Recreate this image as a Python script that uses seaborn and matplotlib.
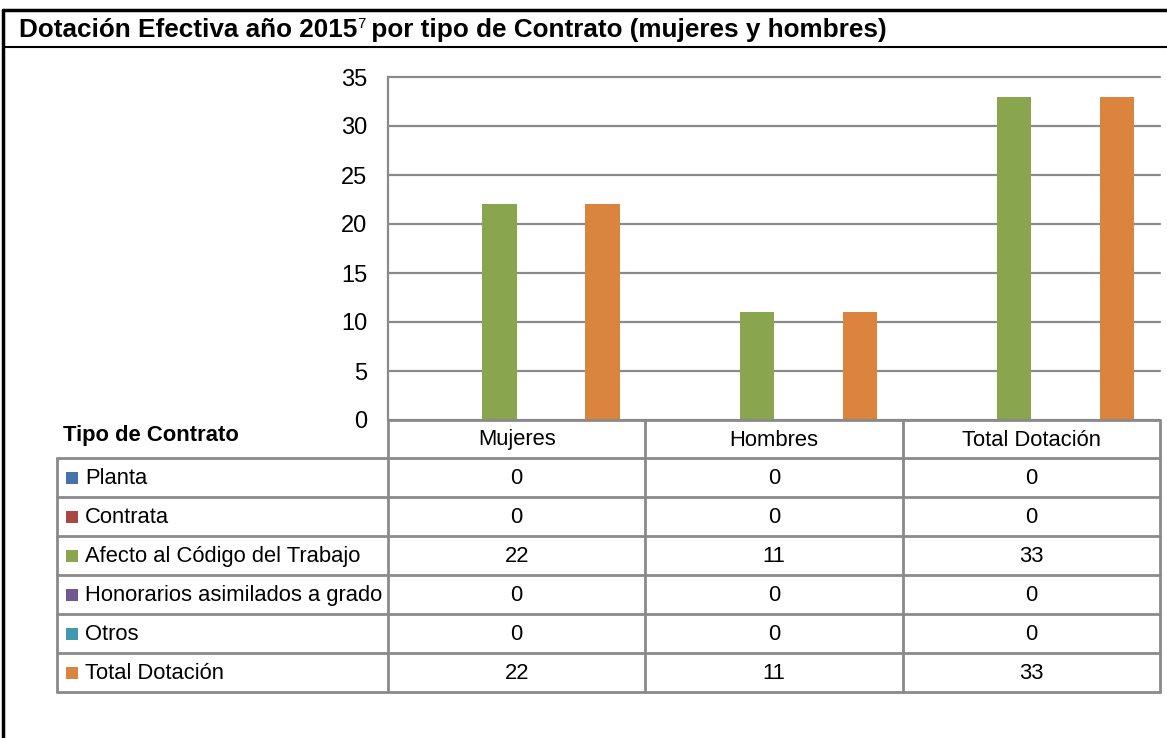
import pandas as pd
import matplotlib
matplotlib.use("Agg")
import matplotlib.pyplot as plt
import matplotlib.transforms as mtransforms
from matplotlib.lines import Line2D
from matplotlib.patches import Rectangle
import seaborn as sns

# datos
grupos = ["Mujeres", "Hombres", "Total Dotación"]
tipos = [
    "Planta",
    "Contrata",
    "Afecto al Código del Trabajo",
    "Honorarios asimilados a grado",
    "Otros",
    "Total Dotación",
]
planta = [0, 0, 0]
contrata = [0, 0, 0]
afecto = [22, 11, 33]
honorarios = [0, 0, 0]
otros = [0, 0, 0]
total = [22, 11, 33]
colores = ["#4573A7", "#AA4643", "#89A54E", "#71588F", "#4198AF", "#DB843D"]
y_ticks = [0, 5, 10, 15, 20, 25, 30, 35]

valores = [planta, contrata, afecto, honorarios, otros, total]
filas = []
for tipo, vals in zip(tipos, valores):
    for g, v in zip(grupos, vals):
        filas.append({"grupo": g, "tipo": tipo, "valor": v})
df = pd.DataFrame(filas)

sns.set_theme(style="white")
plt.rcParams["font.family"] = ["Liberation Sans", "DejaVu Sans"]
plt.rcParams["text.color"] = "black"

W, H = 1167, 738
fig = plt.figure(figsize=(W / 100, H / 100), dpi=100)
fig.patch.set_facecolor("white")

# eje del grafico en pixeles
x0, x1, y_top, y_zero = 388, 1160, 77, 420
ax = fig.add_axes([x0 / W, 1 - y_zero / H, (x1 - x0) / W, (y_zero - y_top) / H])

sns.barplot(
    data=df, x="grupo", y="valor", hue="tipo",
    order=grupos, hue_order=tipos, palette=colores, saturation=1,
    width=0.8, linewidth=0, legend=False, ax=ax,
)

ax.set_xlim(-0.5, len(grupos) - 0.5)
ax.set_ylim(0, 35)
ax.set_yticks(y_ticks)
ax.yaxis.grid(True, color="#8a8a8a", linewidth=1.6)
for gl in ax.get_ygridlines():
    gl.set_clip_on(False)
ax.set_axisbelow(True)
ax.set_xticks([])
ax.set_xlabel("")
ax.set_ylabel("")
ax.tick_params(axis="y", length=0, pad=15, labelsize=17, labelcolor="black")
for s in ["top", "right", "bottom"]:
    ax.spines[s].set_visible(False)
ax.spines["left"].set_color("#8a8a8a")
ax.spines["left"].set_linewidth(1.6)

# tabla de datos: x en datos del eje, y en pixeles de la figura
trans = mtransforms.blended_transform_factory(ax.transData, fig.transFigure)
fy = lambda p: 1 - p / H
fx = lambda p: p / W
gris = "#8a8a8a"
tab_left_px = 57
row_h = 39
header_bottom = 458
bordes_x = [i - 0.5 for i in range(len(grupos) + 1)]
fs = 15.8

# cabecera
for xb in bordes_x:
    fig.add_artist(Line2D([xb, xb], [fy(y_zero), fy(header_bottom + row_h * len(tipos))],
                          transform=trans, color=gris, lw=2))
fig.add_artist(Line2D([-0.5, 2.5], [fy(y_zero), fy(y_zero)], transform=trans, color=gris, lw=2))
for i, g in enumerate(grupos):
    fig.text(i, fy((y_zero + header_bottom) / 2 + 1), g, transform=trans,
             ha="center", va="center", fontsize=fs)
fig.text(fx(63), fy(435), "Tipo de Contrato", ha="left", va="center",
         fontsize=fs, fontweight="bold")

# filas
for r in range(len(tipos) + 1):
    yy = fy(header_bottom + r * row_h)
    fig.add_artist(Line2D([fx(tab_left_px), fx(x1)], [yy, yy], transform=fig.transFigure,
                          color=gris, lw=2))
fig.add_artist(Line2D([fx(tab_left_px)] * 2, [fy(header_bottom), fy(header_bottom + row_h * len(tipos))],
                      transform=fig.transFigure, color=gris, lw=2))
for r, (tipo, vals, c) in enumerate(zip(tipos, valores, colores)):
    yc = header_bottom + r * row_h + row_h / 2
    fig.add_artist(Rectangle((fx(66), fy(yc + 6)), fx(12), 12 / H,
                             transform=fig.transFigure, facecolor=c, edgecolor="none"))
    fig.text(fx(85), fy(yc + 1), tipo, ha="left", va="center", fontsize=fs)
    for i, v in enumerate(vals):
        fig.text(i, fy(yc + 1), str(v), transform=trans, ha="center", va="center", fontsize=fs)

# titulo con superindice
t1 = fig.text(fx(19), fy(30), "Dotación Efectiva año 2015", ha="left", va="center",
              fontsize=18.8, fontweight="bold")
ax.annotate("7", xy=(1, 0.45), xycoords=t1, ha="left", va="bottom",
            fontsize=11, annotation_clip=False)
ax.annotate(" por tipo de Contrato (mujeres y hombres)", xy=(1, 0), xycoords=t1,
            xytext=(5, 0), textcoords="offset points", ha="left", va="bottom",
            fontsize=18.8, fontweight="bold", annotation_clip=False)

# marco
fig.add_artist(Line2D([fx(3), fx(W)], [fy(10), fy(10)], transform=fig.transFigure, color="black", lw=2.5))
fig.add_artist(Line2D([fx(3), fx(W)], [fy(47), fy(47)], transform=fig.transFigure, color="black", lw=1.5))
fig.add_artist(Line2D([fx(3), fx(3)], [fy(10), fy(H)], transform=fig.transFigure, color="black", lw=2.5))

fig.savefig("out.png", dpi=100)
plt.close(fig)
